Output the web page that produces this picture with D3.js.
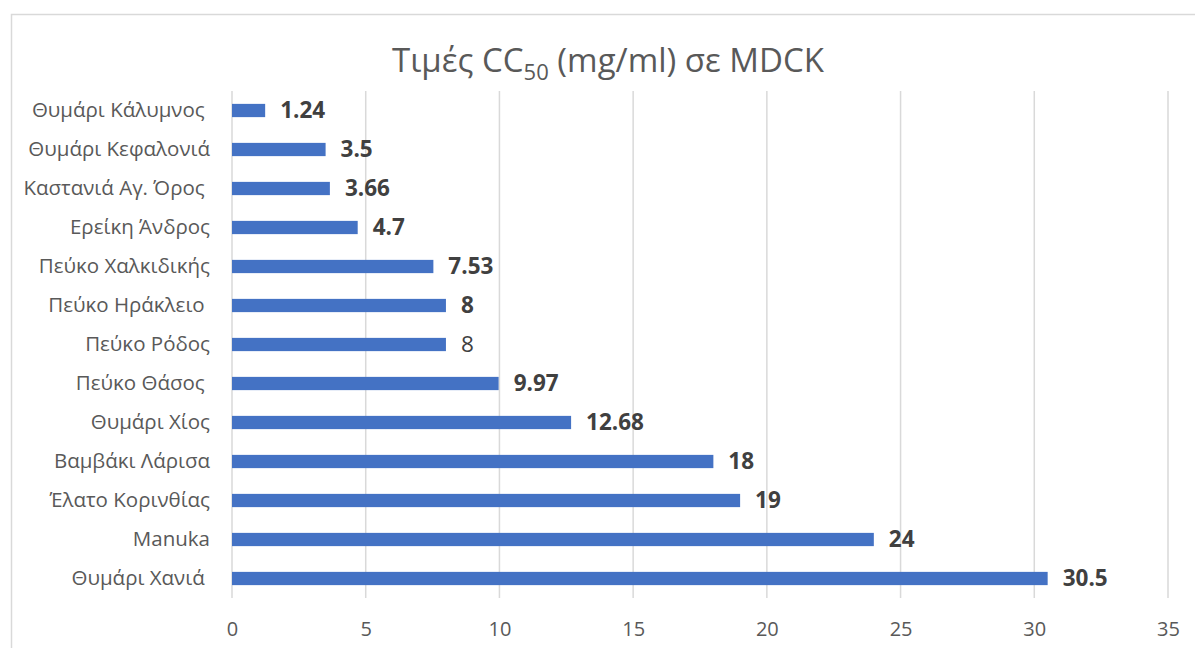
<!DOCTYPE html>
<html>
<head>
<meta charset="utf-8">
<script src="https://cdn.jsdelivr.net/npm/d3@7/dist/d3.min.js"></script>
<style>
  html, body { margin: 0; padding: 0; background: #fff; }
  svg text { white-space: pre; }
</style>
</head>
<body>
<svg id="chart" width="1195" height="648"></svg>
<script>
// ---- data ----
const categories = [
  "Θυμάρι Κάλυμνος ",
  "Θυμάρι Κεφαλονιά",
  "Καστανιά Αγ. Όρος ",
  "Ερείκη Άνδρος",
  "Πεύκο Χαλκιδικής",
  "Πεύκο Ηράκλειο ",
  "Πεύκο Ρόδος",
  "Πεύκο Θάσος ",
  "Θυμάρι Χίος",
  "Βαμβάκι Λάρισα",
  "Έλατο Κορινθίας",
  "Manuka",
  "Θυμάρι Χανιά "
];
const values = [1.24, 3.5, 3.66, 4.7, 7.53, 8, 8, 9.97, 12.68, 18, 19, 24, 30.5];
const valueLabels = ["1.24", "3.5", "3.66", "4.7", "7.53", "8", "8", "9.97", "12.68", "18", "19", "24", "30.5"];
const xTicks = [0, 5, 10, 15, 20, 25, 30, 35];

// ---- drawing ----
const svg = d3.select("#chart");
const W = 1195, H = 648;
const margin = { left: 232, right: 27, top: 91, bottom: 50 };
const font = "'Open Sans', 'Noto Sans', sans-serif";
const plainLabelIndex = 6; // the one non-bold data label in the original

// chart border
svg.append("rect")
  .attr("x", 11.5).attr("y", 14.5)
  .attr("width", 1400).attr("height", 800)
  .attr("fill", "#fff").attr("stroke", "#d9d9d9").attr("stroke-width", 1.5);

const x = d3.scaleLinear().domain([0, 35]).range([margin.left, W - margin.right]);
const y = d3.scaleBand().domain(d3.range(categories.length))
  .range([margin.top, H - margin.bottom]).paddingInner(0.66).paddingOuter(0.33);

// gridlines
svg.append("g").selectAll("line").data(xTicks).join("line")
  .attr("x1", d => x(d)).attr("x2", d => x(d))
  .attr("y1", margin.top).attr("y2", H - margin.bottom)
  .attr("stroke", "#d9d9d9").attr("stroke-width", 1.5);

// x axis labels
const xAxis = d3.axisBottom(x).tickValues(xTicks).tickSize(0).tickPadding(24);
const gx = svg.append("g").attr("transform", `translate(0,${H - margin.bottom})`).call(xAxis);
gx.select(".domain").remove();
gx.selectAll("text").attr("font-family", font).attr("font-size", 20).attr("fill", "#595959");

// y axis labels
const yAxis = d3.axisLeft(y).tickFormat(i => categories[i]).tickSize(0).tickPadding(22);
const gy = svg.append("g").attr("transform", `translate(${margin.left},0)`).call(yAxis);
gy.select(".domain").remove();
gy.selectAll("text").attr("font-family", font).attr("font-size", 20.5).attr("fill", "#595959");

// bars
svg.append("g").selectAll("rect").data(values).join("rect")
  .attr("x", x(0)).attr("y", (d, i) => y(i))
  .attr("width", d => x(d) - x(0)).attr("height", y.bandwidth())
  .attr("fill", "#4472c4");

// value labels
svg.append("g").selectAll("text").data(values).join("text")
  .attr("x", d => x(d) + 15)
  .attr("y", (d, i) => y(i) + y.bandwidth() / 2)
  .attr("dy", "0.35em")
  .attr("font-family", font)
  .attr("font-size", 22.5)
  .attr("font-weight", (d, i) => i === plainLabelIndex ? "normal" : "bold")
  .attr("fill", "#404040")
  .text((d, i) => valueLabels[i]);

// title
const title = svg.append("text")
  .attr("x", 608).attr("y", 72)
  .attr("text-anchor", "middle")
  .attr("font-family", font).attr("font-size", 33).attr("fill", "#595959");
title.append("tspan").text("Τιμές CC");
title.append("tspan").attr("font-size", 22).attr("dy", 8).text("50");
title.append("tspan").attr("dy", -8).text(" (mg/ml) σε MDCK");
</script>
</body>
</html>
